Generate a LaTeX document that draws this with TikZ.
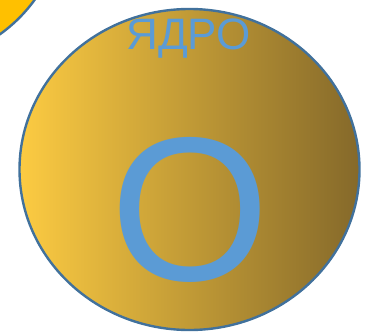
\documentclass[tikz,border=0pt]{standalone}
\usepackage{fontspec}
\setmainfont{Liberation Sans}
\definecolor{edgeblue}{HTML}{41719C}
\definecolor{textblue}{HTML}{5B9BD5}
\definecolor{goldleft}{HTML}{FCCB42}
\definecolor{goldright}{HTML}{85692A}
\definecolor{orangefill}{HTML}{FFC000}
\tikzset{
  rim/.style={draw=edgeblue, line width=2.4pt},
  label/.style={text=textblue, inner sep=0pt, anchor=base}
}
\begin{document}
\begin{tikzpicture}[x=1pt,y=-1pt]
    \useasboundingbox (0,0) rectangle (371,332);

    % kleiner Kreis oben links (angeschnitten)
    \begin{scope}
      \clip (0,0) rectangle (371,332);
      \fill[orangefill, rim] (-87,-88) circle (150);
    \end{scope}

    % grosser Kern mit Verlauf
    \shade[left color=goldleft, right color=goldright, rim] (189.5,169.5) ellipse (170 and 160.5);

    % Beschriftung
    \node[label, font=\fontsize{44}{52}\selectfont] (title) at (188.5,49) {ЯДРО};
    \node[label, font=\fontsize{205}{240}\selectfont] (letter) at (190,280) {O};
\end{tikzpicture}
\end{document}
